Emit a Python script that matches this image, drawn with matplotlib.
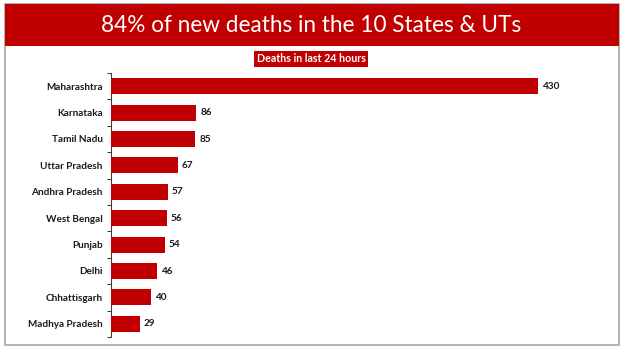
import matplotlib
matplotlib.use("Agg")
import matplotlib.pyplot as plt
from matplotlib.patches import Rectangle
from matplotlib.ticker import FixedLocator

states = ["Maharashtra", "Karnataka", "Tamil Nadu", "Uttar Pradesh", "Andhra Pradesh",
          "West Bengal", "Punjab", "Delhi", "Chhattisgarh", "Madhya Pradesh"]
deaths = [430, 86, 85, 67, 57, 56, 54, 46, 40, 29]
title = "84% of new deaths in the 10 States & UTs"
subtitle = "Deaths in last 24 hours"

W, H = 624, 353
RED = "#C00000"
fig = plt.figure(figsize=(W / 100, H / 100), dpi=100)

def fx(x):
    return x / W

def fy(y):
    return 1 - y / H

# outer border
fig.patches.append(Rectangle((fx(4.5), fy(345)), fx(619) - fx(4.5), fy(4.5) - fy(345),
                             transform=fig.transFigure, facecolor="white",
                             edgecolor="#A6A6A6", linewidth=1.2, zorder=-2))
# banner
fig.patches.append(Rectangle((fx(4.5), fy(46)), fx(619) - fx(4.5), fy(4.5) - fy(46),
                             transform=fig.transFigure, facecolor=RED,
                             edgecolor="none", zorder=-1))
fig.text(fx(311), fy(25), title, color="white", fontsize=16.3, family="Lato",
         ha="center", va="center", zorder=2)
fig.text(fx(311), fy(59), subtitle, color="white", fontsize=7.7, family="Lato",
         fontweight="bold", ha="center", va="center", zorder=2,
         bbox=dict(boxstyle="square,pad=0.25", facecolor=RED, edgecolor="none"))

ax_left, ax_right, ax_top, ax_bot = 111, 590, 73, 337
ax = fig.add_axes([fx(ax_left), fy(ax_bot), fx(ax_right) - fx(ax_left), fy(ax_top) - fy(ax_bot)])
ax.set_zorder(5)
ax.patch.set_alpha(0)

y = list(range(len(states)))
ax.barh(y, deaths, height=0.6, color=RED, zorder=3)
ax.set_ylim(len(states) - 0.5, -0.5)
ax.set_xlim(0, (ax_right - ax_left) / 0.993)

for yi, v in zip(y, deaths):
    ax.text(v + 4, yi, str(v), va="center", ha="left", fontsize=7.2,
            family="Lato", fontweight="bold", color="#1a1a1a")

ax.set_yticks(y)
ax.set_yticklabels(states, family="Lato", fontweight="bold", fontsize=7.2, color="#1a1a1a")
ax.tick_params(axis="y", which="major", length=0, pad=6)
ax.yaxis.set_minor_locator(FixedLocator([i - 0.5 for i in range(len(states) + 1)]))
ax.tick_params(axis="y", which="minor", length=3, width=0.8, color="#404040")
ax.set_xticks([])
for s in ["top", "right", "bottom"]:
    ax.spines[s].set_visible(False)
ax.spines["left"].set_color("#404040")
ax.spines["left"].set_linewidth(0.8)

fig.savefig("out.png", dpi=100)
